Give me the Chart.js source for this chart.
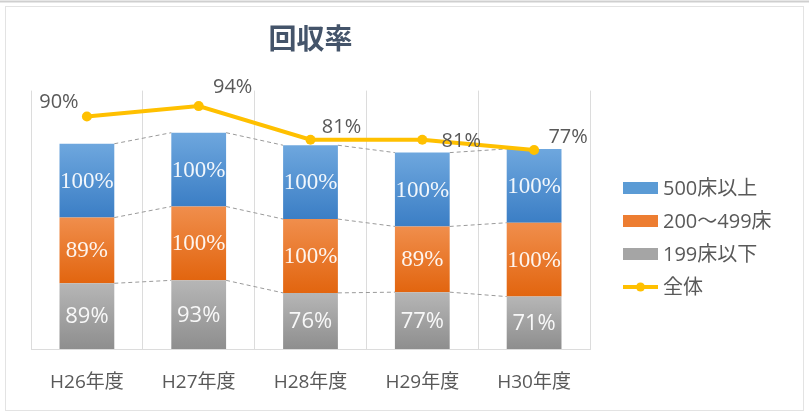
<!DOCTYPE html>
<html>
<head>
<meta charset="utf-8">
<script src="https://cdn.jsdelivr.net/npm/chart.js@4"></script>
<style>
  body { margin: 0; background: #fff; }
  #wrap { width: 809px; height: 414px; }
</style>
</head>
<body>
<div id="wrap"><canvas id="rateChart" width="809" height="414"></canvas></div>
<script>
const years = ["H26年度", "H27年度", "H28年度", "H29年度", "H30年度"];
const over500 = [100, 100, 100, 100, 100];
const mid200 = [89, 100, 100, 89, 100];
const under199 = [89, 93, 76, 77, 71];
const overall = [90, 94, 81, 81, 77];

const FONT = "'Open Sans', 'Noto Sans CJK JP', sans-serif";
const TEXT = "#595959";

// label nudges for the line values (px from the point)
const lineLabelOffsets = [[-28, -14], [34, -19], [31, -12], [39, 2], [34, -13]];

function segGradient(ctx, topColor, bottomColor) {
  const chart = ctx.chart;
  const y = chart.scales.y;
  if (ctx.type !== "data" || !y) return bottomColor;
  let base = 0;
  for (let d = 0; d < ctx.datasetIndex; d++) base += chart.data.datasets[d].data[ctx.dataIndex];
  const top = y.getPixelForValue(base + ctx.raw);
  const bot = y.getPixelForValue(base);
  if (!isFinite(top) || !isFinite(bot)) return bottomColor;
  const g = chart.ctx.createLinearGradient(0, top, 0, bot);
  g.addColorStop(0, topColor);
  g.addColorStop(1, bottomColor);
  return g;
}

const seriesLines = {
  id: "seriesLines",
  beforeDatasetsDraw(chart) {
    const c = chart.ctx;
    c.save();
    c.strokeStyle = "#9a9a9a";
    c.lineWidth = 1;
    c.setLineDash([4, 3]);
    [0, 1, 2].forEach((di) => {
      const els = chart.getDatasetMeta(di).data;
      for (let i = 0; i < els.length - 1; i++) {
        const a = els[i], b = els[i + 1];
        c.beginPath();
        c.moveTo(a.x + a.width / 2, a.y);
        c.lineTo(b.x - b.width / 2, b.y);
        c.stroke();
      }
    });
    c.restore();
  }
};

const valueLabels = {
  id: "valueLabels",
  afterDatasetsDraw(chart) {
    const c = chart.ctx;
    c.save();
    c.textAlign = "center";
    c.textBaseline = "middle";
    [0, 1, 2].forEach((di) => {
      const ds = chart.data.datasets[di];
      c.font = di === 0 ? "22px " + FONT : "23px 'Liberation Serif', serif";
      c.fillStyle = "rgba(255,255,255,0.92)";
      chart.getDatasetMeta(di).data.forEach((el, i) => {
        c.fillText(ds.data[i] + "%", el.x, (el.y + el.base) / 2 + 1);
      });
    });
    c.font = "20px " + FONT;
    c.fillStyle = TEXT;
    chart.getDatasetMeta(3).data.forEach((pt, i) => {
      const [dx, dy] = lineLabelOffsets[i];
      c.fillText(overall[i] + "%", pt.x + dx, pt.y + dy);
    });
    c.restore();
  }
};

const sideLegend = {
  id: "sideLegend",
  afterDraw(chart) {
    const c = chart.ctx;
    const order = [2, 1, 0, 3];
    c.save();
    // outer frame
    c.strokeStyle = "#cfcfcf";
    c.lineWidth = 2;
    c.beginPath(); c.moveTo(0, 1.5); c.lineTo(809, 1.5); c.stroke();
    c.strokeStyle = "#e3e3e3";
    c.lineWidth = 1;
    c.strokeRect(5.5, 6.5, 798, 404);

    c.font = "20px " + FONT;
    c.textBaseline = "middle";
    c.textAlign = "left";
    order.forEach((di, row) => {
      const ds = chart.data.datasets[di];
      const yc = 188 + row * 33;
      if (ds.type === "line") {
        c.strokeStyle = ds.borderColor;
        c.lineWidth = 4;
        c.beginPath(); c.moveTo(623, yc); c.lineTo(658, yc); c.stroke();
        c.fillStyle = ds.borderColor;
        c.beginPath(); c.arc(640.5, yc, 4.5, 0, Math.PI * 2); c.fill();
      } else {
        c.fillStyle = ds.legendColor;
        c.fillRect(623, yc - 6, 35, 12);
      }
      c.fillStyle = TEXT;
      c.fillText(ds.label, 663, yc + 1);
    });
    c.restore();
  }
};

new Chart(document.getElementById("rateChart"), {
  type: "bar",
  data: {
    labels: years,
    datasets: [
      {
        label: "199床以下",
        data: under199,
        legendColor: "#a5a5a5",
        backgroundColor: (ctx) => segGradient(ctx, "#b6b6b6", "#8e8e8e"),
        order: 1
      },
      {
        label: "200～499床",
        data: mid200,
        legendColor: "#ed7d31",
        backgroundColor: (ctx) => segGradient(ctx, "#f08e4c", "#e2650f"),
        order: 1
      },
      {
        label: "500床以上",
        data: over500,
        legendColor: "#5b9bd5",
        backgroundColor: (ctx) => segGradient(ctx, "#6ea7de", "#3b7ec5"),
        order: 1
      },
      {
        type: "line",
        label: "全体",
        data: overall,
        yAxisID: "y1",
        borderColor: "#ffc000",
        backgroundColor: "#ffc000",
        borderWidth: 4,
        pointRadius: 5,
        pointBackgroundColor: "#ffc000",
        pointBorderWidth: 0,
        tension: 0,
        order: 0
      }
    ]
  },
  options: {
    responsive: false,
    animation: false,
    events: [],
    layout: { padding: { left: 31, right: 219, top: 24, bottom: 20 } },
    datasets: { bar: { categoryPercentage: 1, barPercentage: 0.49 } },
    scales: {
      x: {
        stacked: true,
        grid: { color: "#dcdcdc", drawTicks: false, offset: true },
        border: { color: "#dcdcdc" },
        ticks: { color: TEXT, font: { family: FONT, size: 19 }, padding: 22, maxRotation: 0 },
        afterFit(scale) { scale.height = 45; }
      },
      y: { stacked: true, min: 0, max: 350, display: false },
      y1: { min: 0, max: 100, display: false }
    },
    plugins: {
      legend: { display: false },
      tooltip: { enabled: false },
      title: {
        display: true,
        text: "回収率",
        color: "#44546a",
        font: { family: FONT, size: 28, weight: "bold" },
        padding: { top: 0, bottom: 33 }
      }
    }
  },
  plugins: [seriesLines, valueLabels, sideLegend]
});
</script>
</body>
</html>
